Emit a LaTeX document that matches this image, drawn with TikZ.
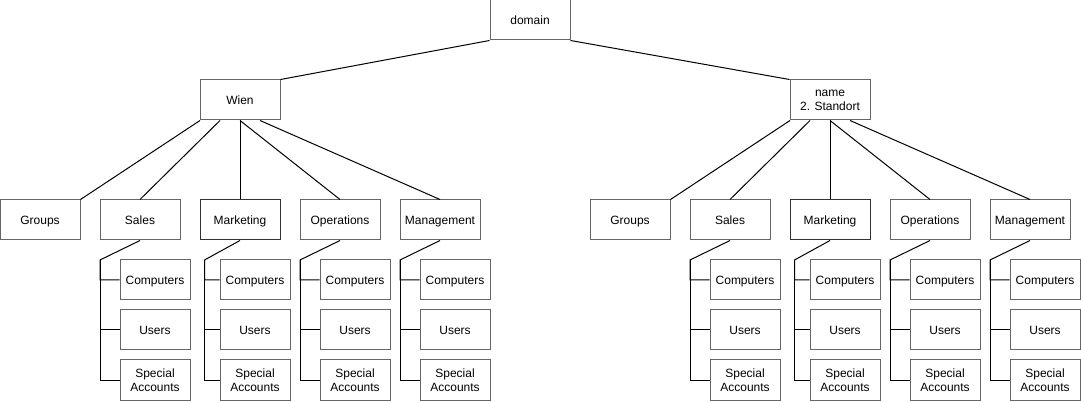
\documentclass[tikz,border=0pt]{standalone}
\usepackage{fontspec}
\setmainfont{Liberation Sans}
\usetikzlibrary{calc}
\definecolor{boxgray}{HTML}{666666}
\definecolor{keygray}{HTML}{333333}
\tikzset{
    box/.style={draw=boxgray, line width=0.75pt, fill=white, minimum width=60pt,
        minimum height=30pt, inner sep=1pt, align=center, text depth=0pt,
        font=\fontsize{9}{10.5}\selectfont},
    keybox/.style={box, draw=keygray},
    subbox/.style={box, minimum width=52.5pt},
    link/.style={draw=black, line width=0.75pt}
}

\begin{document}
\begin{tikzpicture}[x=0.75pt,y=-0.75pt]
    \useasboundingbox (0,0) rectangle (1081,402);
    \node[box] (domain) at (530,20) {domain};
    \foreach \s/\o/\name in {l/0/Wien, r/590/{name\\2. Standort}} {
        \node[box] (site-\s) at (240+\o,100) {\name};
        % groups hang off the left corner
        \node[box] (groups-\s) at (40+\o,220) {Groups};
        \draw[link] ($(site-\s.south)+(-40,0)$) -- (groups-\s.north east);
        \foreach \d/\lbl/\x/\a/\t/\st in {sales/Sales/140/-20/-40/box,
                marketing/Marketing/240/0/-35.5/keybox,
                operations/Operations/340/0/-40/box,
                management/Management/440/20/-40/box} {
            \node[\st] (\d-\s) at (\x+\o,220) {\lbl};
            \draw[link] ($(site-\s.south)+(\a,0)$) -- (\d-\s.north);
            \node[subbox] (\d-\s-comp) at (\x+\o+15,280) {Computers};
            \node[subbox] (\d-\s-users) at (\x+\o+15,330) {Users};
            \node[subbox] (\d-\s-spec) at (\x+\o+15,380) {Special\\Accounts};
            \coordinate (\d-\s-fork) at (\x+\o+\t,260);
            \draw[link] (\d-\s.south) -- (\d-\s-fork) |- (\d-\s-comp.west);
            \draw[link] (\d-\s-fork) |- (\d-\s-users.west);
            \draw[link] (\d-\s-fork) |- (\d-\s-spec.west);
        }
    }
    \draw[link] (domain.south west) -- (site-l.north east);
    \draw[link] (domain.south east) -- (site-r.north west);
\end{tikzpicture}
\end{document}
